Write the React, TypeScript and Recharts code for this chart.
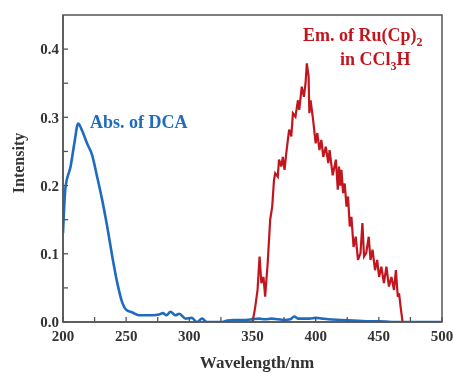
import React from "react";
import { LineChart, Line, XAxis, YAxis, ReferenceArea } from "recharts";

const BLUE = "#1f6bbf";
const RED = "#c2161f";
const AXIS = "#555555";
const FONT = "'Liberation Serif', 'Times New Roman', serif";

const xTicks = [200, 225, 250, 275, 300, 325, 350, 375, 400, 425, 450, 475, 500];
const yTicks = [0, 0.05, 0.1, 0.15, 0.2, 0.25, 0.3, 0.35, 0.4];

const absWavelength = [200, 202, 206, 209, 212, 215, 219, 223, 227, 231, 235, 239, 243, 247, 250, 255, 260, 266, 271, 276, 279, 282, 285, 289, 292, 297, 302, 306, 310, 314, 318, 322, 326, 330, 335, 340, 345, 350, 355, 360, 365, 370, 375, 380, 383, 386, 390, 395, 400, 405, 410, 420, 430, 440, 450, 460, 470, 480, 490, 500];
const absIntensity = [0.13, 0.198, 0.228, 0.262, 0.291, 0.281, 0.262, 0.245, 0.213, 0.179, 0.14, 0.096, 0.057, 0.028, 0.018, 0.014, 0.01, 0.01, 0.01, 0.011, 0.013, 0.01, 0.015, 0.01, 0.012, 0.005, 0.006, 0.0, 0.005, 0.0, 0.0, 0.0, 0.0, 0.002, 0.003, 0.003, 0.003, 0.004, 0.005, 0.004, 0.005, 0.004, 0.003, 0.004, 0.008, 0.005, 0.005, 0.005, 0.006, 0.005, 0.004, 0.003, 0.002, 0.001, 0.001, 0.0, 0.0, 0.0, 0.0, 0.0];

const emWavelength = [350, 352, 354, 355.6, 357, 358.7, 360, 362, 364, 365.6, 367, 368, 370, 371, 372.8, 374, 375.4, 376.7, 378, 379, 380.7, 382, 384, 386, 387, 389, 390.7, 392, 393, 394.4, 395, 396, 398, 400, 401.3, 403, 404.5, 406, 408, 410, 411, 413.5, 416, 417.5, 418.5, 419.5, 420.4, 421.7, 423, 424.4, 425.6, 427, 428.3, 430, 431.7, 433.5, 435.5, 437, 438.3, 440, 442, 443.4, 445, 447, 448.7, 450.2, 452, 454, 456, 458, 460, 462, 463.5, 465, 466, 467.5, 468.8];
const emIntensity = [0.0, 0.02, 0.047, 0.096, 0.057, 0.066, 0.037, 0.086, 0.15, 0.169, 0.208, 0.218, 0.213, 0.238, 0.228, 0.242, 0.223, 0.247, 0.267, 0.282, 0.272, 0.306, 0.301, 0.325, 0.311, 0.345, 0.33, 0.35, 0.379, 0.36, 0.306, 0.325, 0.296, 0.262, 0.277, 0.252, 0.267, 0.242, 0.257, 0.233, 0.252, 0.215, 0.238, 0.194, 0.228, 0.2, 0.223, 0.189, 0.203, 0.169, 0.184, 0.14, 0.154, 0.11, 0.125, 0.091, 0.101, 0.145, 0.096, 0.101, 0.125, 0.091, 0.106, 0.076, 0.091, 0.066, 0.081, 0.057, 0.081, 0.052, 0.066, 0.047, 0.076, 0.037, 0.042, 0.018, 0.0];

const absData = absWavelength.map((x, i) => ({ x, y: absIntensity[i] }));
const emData = emWavelength.map((x, i) => ({ x, y: emIntensity[i] }));

const XTick = (props: any) => {
  const { x, y, payload } = props;
  const v = payload.value;
  const major = v % 50 === 0;
  return (
    <g>
      <line x1={x} y1={y} x2={x} y2={y - 5} stroke={AXIS} strokeWidth={1.3} />
      {major && (
        <text x={x} y={y + 19} textAnchor="middle" fontFamily={FONT} fontWeight="bold" fontSize={15} fill="#333">
          {v}
        </text>
      )}
    </g>
  );
};

const YTick = (props: any) => {
  const { x, y, payload } = props;
  const v = payload.value;
  const major = Math.round(v * 100) % 10 === 0;
  return (
    <g>
      <line x1={x} y1={y} x2={x + 5} y2={y} stroke={AXIS} strokeWidth={1.3} />
      {major && (
        <text x={x - 4} y={y} dy="0.35em" textAnchor="end" fontFamily={FONT} fontWeight="bold" fontSize={15} fill="#333">
          {v.toFixed(1)}
        </text>
      )}
    </g>
  );
};

export default function App() {
  return (
    <div style={{ position: "fixed", left: 8, top: 8, width: 445, height: 365 }}>
      <style>{`.recharts-surface, .recharts-wrapper { overflow: visible !important; }`}</style>
      <LineChart width={445} height={365} data={absData} margin={{ top: 7, right: 11, bottom: 21, left: 0 }}>
        <XAxis
          dataKey="x"
          type="number"
          domain={[200, 500]}
          ticks={xTicks}
          interval={0}
          tick={<XTick />}
          tickLine={false}
          tickSize={0}
          tickMargin={0}
          height={30}
          axisLine={{ stroke: AXIS, strokeWidth: 1.5 }}
          allowDataOverflow
        />
        <YAxis
          type="number"
          domain={[0, 0.45]}
          ticks={yTicks}
          interval={0}
          tick={<YTick />}
          tickLine={false}
          tickSize={0}
          tickMargin={0}
          width={55}
          axisLine={{ stroke: AXIS, strokeWidth: 1.5 }}
          allowDataOverflow
        />
        <ReferenceArea x1={200} x2={500} y1={0} y2={0.45} fill="none" stroke={AXIS} strokeWidth={1.5} />
        <Line data={absData} dataKey="y" type="monotone" stroke={BLUE} strokeWidth={2.6} dot={false} isAnimationActive={false} />
        <Line data={emData} dataKey="y" type="linear" stroke={RED} strokeWidth={2.2} dot={false} isAnimationActive={false} />
      </LineChart>
      <svg width={445} height={365} style={{ position: "absolute", left: 0, top: 0, pointerEvents: "none", overflow: "visible" }}>
        <text x={249} y={360} textAnchor="middle" fontFamily={FONT} fontWeight="bold" fontSize={17} fill="#333">
          Wavelength/nm
        </text>
        <text
          x={0}
          y={0}
          transform="translate(10,155) rotate(-90)"
          textAnchor="middle"
          dominantBaseline="central"
          fontFamily={FONT}
          fontWeight="bold"
          fontSize={16}
          fill="#333"
        >
          Intensity
        </text>
        <text x={82} y={120} fontFamily={FONT} fontWeight="bold" fontSize={18} fill={BLUE}>
          Abs. of DCA
        </text>
        <text x={295} y={33} fontFamily={FONT} fontWeight="bold" fontSize={18} fill={RED}>
          Em. of Ru(Cp)
          <tspan fontSize={12} dy={5}>2</tspan>
        </text>
        <text x={332} y={57} fontFamily={FONT} fontWeight="bold" fontSize={18} fill={RED}>
          in CCl
          <tspan fontSize={12} dy={5}>3</tspan>
          <tspan dy={-5}>H</tspan>
        </text>
      </svg>
    </div>
  );
}
